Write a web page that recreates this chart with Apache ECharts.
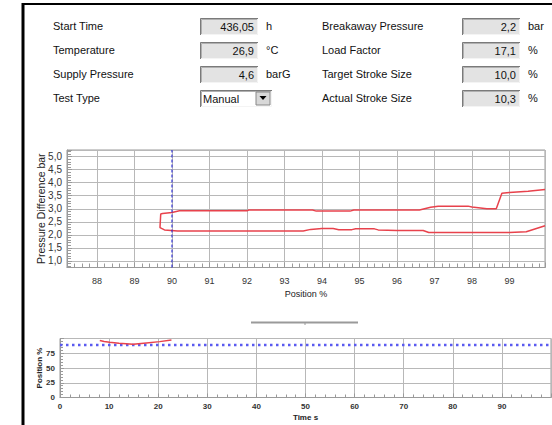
<!DOCTYPE html>
<html><head><meta charset="utf-8">
<script src="https://cdn.jsdelivr.net/npm/echarts@6/dist/echarts.min.js"></script>
<style>html,body{margin:0;padding:0;background:#fff}#c{width:552px;height:425px}</style>
</head><body><div id="c"></div><script>
// ---- form panel data ----
const leftLabels = ['Start Time', 'Temperature', 'Supply Pressure', 'Test Type'];
const leftValues = ['436,05', '26,9', '4,6'];
const leftUnits = ['h', '°C', 'barG'];
const testType = 'Manual';
const rightLabels = ['Breakaway Pressure', 'Load Factor', 'Target Stroke Size', 'Actual Stroke Size'];
const rightValues = ['2,2', '17,1', '10,0', '10,3'];
const rightUnits = ['bar', '%', '%', '%'];

// ---- main chart: pressure difference vs position (loop) ----
const loopPosition = [99.95, 99.5, 99.0, 98.8, 98.65, 98.4, 98.0, 97.9, 97.1, 96.9, 96.6, 94.85, 94.75, 93.85, 93.75, 92.05, 92.0, 90.2, 90.0, 89.75, 89.7,
                      89.68, 89.8, 90.15, 93.5, 93.7, 94.0, 94.3, 94.45, 94.8, 94.9, 95.4, 95.5, 96.0, 96.7, 96.85, 99.0, 99.45, 99.95];
const loopPressure = [3.74, 3.67, 3.62, 3.59, 3.0, 3.0, 3.07, 3.1, 3.1, 3.06, 2.95, 2.95, 2.91, 2.91, 2.95, 2.95, 2.92, 2.92, 2.86, 2.82, 2.8,
                      2.28, 2.19, 2.15, 2.15, 2.21, 2.24, 2.24, 2.2, 2.2, 2.23, 2.23, 2.19, 2.17, 2.17, 2.09, 2.09, 2.12, 2.35];
const markerPosition = 90;

// ---- bottom chart: position vs time ----
const timeValues = [8.1, 9.0, 10.1, 12.0, 14.9, 17.6, 20.3, 22.7];
const positionValues = [96.5, 95.0, 93.8, 92.0, 90.3, 92.5, 94.7, 97.3];
const setpointPosition = 89;

const FONT = '"Liberation Sans", Arial, sans-serif';
const rows = [26, 50, 74, 98];

function txt(x, y, s, align, size, color, weight) {
  return { type: 'text', silent: true, style: { x: x, y: y, text: s, font: (weight || 'normal') + ' ' + (size || 11) + 'px ' + FONT,
    fill: color || '#111', align: align || 'left', verticalAlign: 'middle', textAlign: align || 'left', textVerticalAlign: 'middle' } };
}
function sunken(x, y, w, h, fill) {
  return [
    { type: 'rect', silent: true, shape: { x: x, y: y, width: w, height: h }, style: { fill: fill, stroke: null } },
    { type: 'polyline', silent: true, shape: { points: [[x + 0.5, y + h], [x + 0.5, y + 0.5], [x + w, y + 0.5]] }, style: { stroke: '#7a7a7a', lineWidth: 1, fill: null } },
    { type: 'polyline', silent: true, shape: { points: [[x + 1.5, y + h - 1], [x + 1.5, y + 1.5], [x + w - 1, y + 1.5]] }, style: { stroke: '#b0b0b0', lineWidth: 1, fill: null } },
    { type: 'polyline', silent: true, shape: { points: [[x + 1, y + h - 0.5], [x + w - 0.5, y + h - 0.5], [x + w - 0.5, y + 1]] }, style: { stroke: '#f4f4f4', lineWidth: 1, fill: null } }
  ];
}

const graphics = [];
// frame
graphics.push({ type: 'line', silent: true, shape: { x1: 23, y1: 3, x2: 23, y2: 425 }, style: { stroke: '#000', lineWidth: 3 } });
graphics.push({ type: 'line', silent: true, shape: { x1: 22, y1: 4, x2: 552, y2: 4 }, style: { stroke: '#000', lineWidth: 2 } });

leftLabels.forEach((l, i) => graphics.push(txt(53, rows[i], l, 'left')));
rightLabels.forEach((l, i) => graphics.push(txt(322, rows[i], l, 'left')));
leftValues.forEach((v, i) => {
  sunken(200, rows[i] - 8, 58, 17, '#e3e3e3').forEach(e => graphics.push(e));
  graphics.push(txt(254, rows[i] + 0.5, v, 'right'));
  graphics.push(txt(266, rows[i], leftUnits[i], 'left'));
});
rightValues.forEach((v, i) => {
  sunken(462, rows[i] - 8, 58, 17, '#e3e3e3').forEach(e => graphics.push(e));
  graphics.push(txt(516, rows[i] + 0.5, v, 'right'));
  graphics.push(txt(528, rows[i], rightUnits[i], 'left'));
});
// dropdown
sunken(200, rows[3] - 8, 72, 17, '#ffffff').forEach(e => graphics.push(e));
graphics.push(txt(203, rows[3] + 0.5, testType, 'left'));
graphics.push({ type: 'rect', silent: true, shape: { x: 256, y: rows[3] - 6, width: 14, height: 13 }, style: { fill: '#d8d8d8', stroke: '#888', lineWidth: 1 } });
graphics.push({ type: 'polygon', silent: true, shape: { points: [[259.5, rows[3] - 2], [266.5, rows[3] - 2], [263, rows[3] + 2]] }, style: { fill: '#000' } });
// separator / scroll indicator
graphics.push({ type: 'line', silent: true, shape: { x1: 251, y1: 322.5, x2: 358, y2: 322.5 }, style: { stroke: '#9a9a9a', lineWidth: 2 } });
graphics.push({ type: 'line', silent: true, shape: { x1: 305, y1: 322, x2: 305, y2: 325 }, style: { stroke: '#9a9a9a', lineWidth: 1 } });

const axisCol = '#9a9a9a';
const gridCol = '#b8b8b8';
const comma = v => v.toFixed(1).replace('.', ',');

const option = {
  animation: false,
  backgroundColor: '#ffffff',
  graphic: graphics,
  grid: [
    { left: 67, top: 150, right: 7, bottom: 157.5, show: true, borderColor: axisCol, borderWidth: 1, containLabel: false },
    { left: 60, top: 338.5, right: 1, bottom: 27.5, show: true, borderColor: axisCol, borderWidth: 1, containLabel: false }
  ],
  xAxis: [
    { type: 'value', gridIndex: 0, min: 87.2, max: 99.95, splitNumber: 12,
      axisLine: { show: true, onZero: false, lineStyle: { color: axisCol } },
      axisTick: { show: true, inside: true, length: 5, lineStyle: { color: axisCol } },
      minorTick: { show: true, splitNumber: 5, length: 4, lineStyle: { color: axisCol } },
      splitLine: { show: true, lineStyle: { color: gridCol } },
      axisLabel: { fontSize: 9, color: '#333', margin: 9, fontFamily: FONT, showMinLabel: false, showMaxLabel: false },
      name: 'Position %', nameLocation: 'middle', nameGap: 22, nameMoveOverlap: false, nameTextStyle: { fontSize: 9, color: '#222', fontFamily: FONT } },
    { type: 'value', gridIndex: 1, min: 0, max: 100, interval: 10,
      axisLine: { show: true, onZero: false, lineStyle: { color: axisCol } },
      axisTick: { show: true, inside: true, length: 4, lineStyle: { color: axisCol } },
      minorTick: { show: true, splitNumber: 5, length: 3, lineStyle: { color: axisCol } },
      splitLine: { show: true, lineStyle: { color: gridCol } },
      axisLabel: { fontSize: 8, fontWeight: 'bold', color: '#333', margin: 5, fontFamily: FONT, showMaxLabel: false },
      name: 'Time s', nameLocation: 'middle', nameGap: 16, nameMoveOverlap: false, nameTextStyle: { fontSize: 8, fontWeight: 'bold', color: '#222', fontFamily: FONT } }
  ],
  yAxis: [
    { type: 'value', gridIndex: 0, min: 0.75, max: 5.25, splitNumber: 9,
      axisLine: { show: true, onZero: false, lineStyle: { color: axisCol } },
      axisTick: { show: true, inside: true, length: 5, lineStyle: { color: axisCol } },
      minorTick: { show: true, splitNumber: 5, length: 4, lineStyle: { color: axisCol } },
      splitLine: { show: true, lineStyle: { color: gridCol } },
      axisLabel: { fontSize: 10, color: '#333', margin: 5, fontFamily: FONT, showMinLabel: false, showMaxLabel: false, formatter: comma },
      name: 'Pressure Difference bar', nameLocation: 'middle', nameGap: 21, nameMoveOverlap: false, nameTextStyle: { fontSize: 10.5, color: '#222', fontFamily: FONT } },
    { type: 'value', gridIndex: 1, min: 0, max: 100, interval: 25,
      axisLine: { show: true, onZero: false, lineStyle: { color: axisCol } },
      axisTick: { show: true, inside: true, length: 4, lineStyle: { color: axisCol } },
      minorTick: { show: true, splitNumber: 5, length: 3, lineStyle: { color: axisCol } },
      splitLine: { show: true, lineStyle: { color: gridCol } },
      axisLabel: { fontSize: 8, fontWeight: 'bold', color: '#333', margin: 5, fontFamily: FONT, showMaxLabel: false },
      name: 'Position %', nameLocation: 'middle', nameGap: 17, nameMoveOverlap: false, nameTextStyle: { fontSize: 8, fontWeight: 'bold', color: '#222', fontFamily: FONT } }
  ],
  series: [
    { type: 'line', xAxisIndex: 0, yAxisIndex: 0, symbol: 'none', silent: true,
      data: loopPosition.map((p, i) => [p, loopPressure[i]]),
      lineStyle: { color: '#e8424c', width: 1.5 } },
    { type: 'line', xAxisIndex: 0, yAxisIndex: 0, symbol: 'none', silent: true,
      data: [[markerPosition, 0.75], [markerPosition, 5.25]],
      lineStyle: { color: '#1a1ad6', width: 1, type: [3, 2] } },
    { type: 'line', xAxisIndex: 1, yAxisIndex: 1, symbol: 'none', silent: true,
      data: [[0, setpointPosition], [100, setpointPosition]],
      lineStyle: { color: '#5a5af0', width: 2.5, type: [2.5, 3.5] } },
    { type: 'line', xAxisIndex: 1, yAxisIndex: 1, symbol: 'none', silent: true,
      data: timeValues.map((t, i) => [t, positionValues[i]]),
      lineStyle: { color: '#e8424c', width: 1.5 } }
  ]
};
const chart = echarts.init(document.getElementById('c'), null, { renderer: 'svg', width: 552, height: 425 });
chart.setOption(option);
</script></body></html>
